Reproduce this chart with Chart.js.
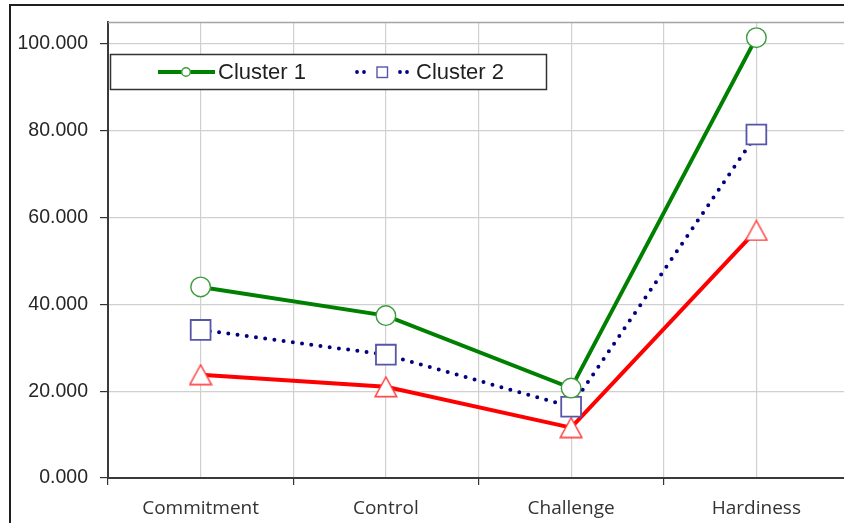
<!DOCTYPE html>
<html>
<head>
<meta charset="utf-8">
<script src="https://cdn.jsdelivr.net/npm/chart.js@4"></script>
<style>
  html, body { margin: 0; padding: 0; background: #fff; overflow: hidden; }
  #wrap { position: relative; width: 844px; height: 523px; overflow: hidden; }
  canvas { display: block; }
</style>
</head>
<body>
<div id="wrap"><canvas id="chart" width="852" height="523"></canvas></div>
<script>
// Hardiness dimensions per cluster
const categories = ['Commitment', 'Control', 'Challenge', 'Hardiness'];
const seriesNames = ['Cluster 1', 'Cluster 2', 'Cluster 3'];
const cluster1 = [44.0, 37.4, 20.7, 101.4];
const cluster2 = [34.1, 28.4, 16.4, 79.1];
const cluster3 = [23.8, 21.0, 11.6, 57.0];
const yTickValues = [0, 20, 40, 60, 80, 100];
const yMax = 105;

const GREEN = '#008000';
const GREEN_MARK = '#3c9c3c';
const NAVY = '#000080';
const SQUARE_MARK = '#5656a8';
const RED = '#ff0000';
const RED_MARK = '#ff3b3b';

function toPoints(values) {
  return values.map((v, i) => ({ x: i, y: v }));
}

// open triangle marker, centred on its bounding box
function triangleMarker() {
  const w = 24, h = 22;
  const c = document.createElement('canvas');
  c.width = w; c.height = h;
  const g = c.getContext('2d');
  g.beginPath();
  g.moveTo(w / 2, 1.2);
  g.lineTo(w - 1.2, h - 1.2);
  g.lineTo(1.2, h - 1.2);
  g.closePath();
  g.fillStyle = '#ffffff';
  g.fill();
  g.lineWidth = 1.4;
  g.strokeStyle = RED_MARK;
  g.stroke();
  return c;
}

const frame = {
  id: 'frame',
  beforeDraw(chart) {
    const ctx = chart.ctx;
    ctx.save();
    ctx.fillStyle = '#ffffff';
    ctx.fillRect(0, 0, chart.width, chart.height);
    ctx.strokeStyle = '#1e1e1e';
    ctx.lineWidth = 2;
    ctx.beginPath();
    ctx.moveTo(10, chart.height + 2);
    ctx.lineTo(10, 5);
    ctx.lineTo(chart.width + 2, 5);
    ctx.stroke();
    ctx.restore();
  },
  beforeDatasetsDraw(chart) {
    const ctx = chart.ctx;
    const a = chart.chartArea;
    ctx.save();
    ctx.strokeStyle = '#a3a3a3';
    ctx.lineWidth = 1.5;
    ctx.beginPath();
    ctx.moveTo(a.left, a.top + 0.5);
    ctx.lineTo(a.right, a.top + 0.5);
    ctx.stroke();
    ctx.restore();
  }
};

const boxLegend = {
  id: 'boxLegend',
  afterDraw(chart) {
    const ctx = chart.ctx;
    const a = chart.chartArea;
    const x0 = a.left + 2.5, y0 = 54.5, w = 436, h = 35;
    const cy = y0 + h / 2;
    ctx.save();
    ctx.fillStyle = '#ffffff';
    ctx.fillRect(x0, y0, w, h);
    ctx.strokeStyle = '#333333';
    ctx.lineWidth = 1.5;
    ctx.strokeRect(x0, y0, w, h);

    ctx.font = '22px "Liberation Sans", Arial, sans-serif';
    ctx.fillStyle = '#1f1f1f';
    ctx.textBaseline = 'middle';
    ctx.textAlign = 'left';

    // Cluster 1: solid line with open circle
    const ds1 = chart.data.datasets[0];
    ctx.strokeStyle = ds1.borderColor;
    ctx.lineWidth = 4;
    ctx.beginPath();
    ctx.moveTo(158, cy);
    ctx.lineTo(215, cy);
    ctx.stroke();
    ctx.beginPath();
    ctx.arc(186, cy, 4.3, 0, Math.PI * 2);
    ctx.fillStyle = '#ffffff';
    ctx.fill();
    ctx.lineWidth = 1.4;
    ctx.strokeStyle = ds1.pointBorderColor;
    ctx.stroke();
    ctx.fillStyle = '#1f1f1f';
    ctx.fillText(ds1.label, 218, cy + 1);

    // Cluster 2: dotted line with open square
    const ds2 = chart.data.datasets[1];
    ctx.fillStyle = ds2.borderColor;
    [357, 364, 400, 407].forEach(px => {
      ctx.beginPath();
      ctx.arc(px, cy, 1.9, 0, Math.PI * 2);
      ctx.fill();
    });
    ctx.fillStyle = '#ffffff';
    ctx.fillRect(377, cy - 5, 10.5, 10.5);
    ctx.lineWidth = 1.4;
    ctx.strokeStyle = ds2.pointBorderColor;
    ctx.strokeRect(377, cy - 5, 10.5, 10.5);
    ctx.fillStyle = '#1f1f1f';
    ctx.fillText(ds2.label, 416, cy + 1);
    ctx.restore();
  }
};

const xTickValues = [];
for (let v = -0.5; v <= categories.length - 0.5 + 1e-9; v += 0.5) xTickValues.push(v);

new Chart(document.getElementById('chart'), {
  type: 'line',
  data: {
    datasets: [
      {
        label: seriesNames[0],
        data: toPoints(cluster1),
        borderColor: GREEN,
        borderWidth: 4,
        pointStyle: 'circle',
        pointRadius: 9.8,
        pointBorderWidth: 1.4,
        pointBorderColor: GREEN_MARK,
        pointBackgroundColor: '#ffffff'
      },
      {
        label: seriesNames[1],
        data: toPoints(cluster2),
        borderColor: NAVY,
        borderWidth: 4,
        borderDash: [0, 9.3],
        borderCapStyle: 'round',
        pointStyle: 'rect',
        pointRadius: 14,
        pointBorderWidth: 1.8,
        pointBorderColor: SQUARE_MARK,
        pointBackgroundColor: '#ffffff'
      },
      {
        label: seriesNames[2],
        data: toPoints(cluster3),
        borderColor: RED,
        borderWidth: 4,
        pointStyle: triangleMarker(),
        pointRadius: 11,
        pointBorderColor: RED_MARK,
        pointBackgroundColor: '#ffffff'
      }
    ]
  },
  options: {
    responsive: false,
    animation: false,
    events: [],
    layout: { autoPadding: false, padding: { top: 22, right: 3, bottom: 0, left: 0 } },
    plugins: {
      legend: { display: false },
      tooltip: { enabled: false }
    },
    elements: { line: { tension: 0 } },
    scales: {
      x: {
        type: 'linear',
        min: -0.5,
        max: categories.length - 0.5,
        afterBuildTicks(scale) {
          scale.ticks = xTickValues.map(v => ({ value: v }));
        },
        afterFit(scale) {
          scale.height = 45;
          scale.paddingLeft = 0;
          scale.paddingRight = 0;
        },
        ticks: {
          autoSkip: false,
          maxRotation: 0,
          padding: 12,
          color: '#333333',
          font: { family: '"Open Sans", "Noto Sans", sans-serif', size: 19 },
          callback(value) {
            return Number.isInteger(value) ? categories[value] : '';
          }
        },
        grid: {
          color: '#d0d0d0',
          lineWidth: 1.2,
          tickLength: 7,
          tickColor(ctx) {
            return ctx.tick && Number.isInteger(ctx.tick.value) ? 'rgba(0,0,0,0)' : '#333333';
          }
        },
        border: { color: '#3a3a3a', width: 2 }
      },
      y: {
        min: 0,
        max: yMax,
        afterBuildTicks(scale) {
          scale.ticks = yTickValues.map(v => ({ value: v }));
        },
        afterFit(scale) {
          scale.width = 108;
          scale.paddingTop = 0;
          scale.paddingBottom = 0;
        },
        ticks: {
          padding: 12,
          color: '#262626',
          font: { family: '"Liberation Sans", Arial, sans-serif', size: 19.5 },
          callback(value) { return Number(value).toFixed(3); }
        },
        grid: {
          color: '#d0d0d0',
          lineWidth: 1.2,
          tickLength: 8,
          tickColor: '#333333'
        },
        border: { color: '#3a3a3a', width: 2 }
      }
    }
  },
  plugins: [frame, boxLegend]
});
</script>
</body>
</html>
